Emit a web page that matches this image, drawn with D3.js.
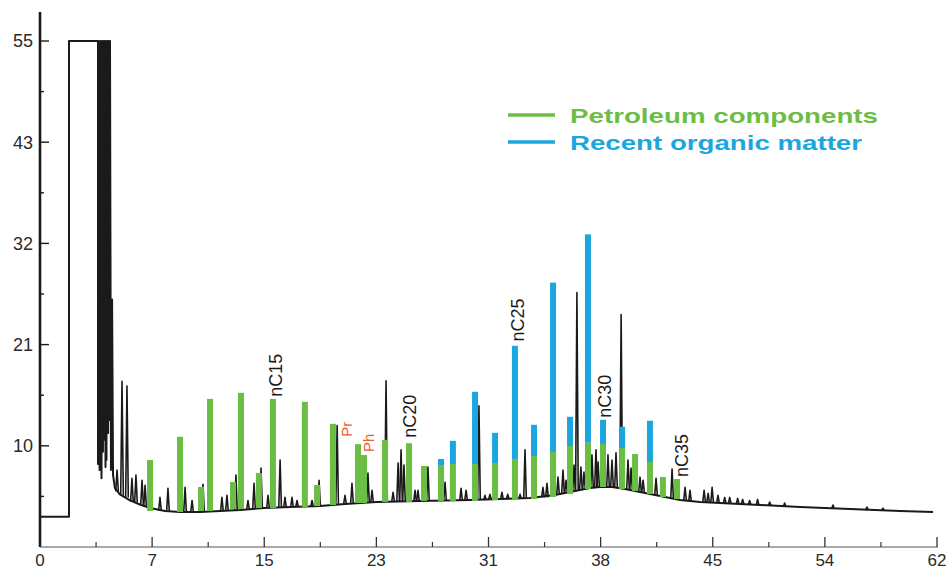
<!DOCTYPE html>
<html>
<head>
<meta charset="utf-8">
<script src="https://cdn.jsdelivr.net/npm/d3@7"></script>
<style>
  body { margin: 0; background: #fff; }
  svg { display: block; font-family: "Liberation Sans", Arial, Helvetica, sans-serif; }
</style>
</head>
<body>
<svg id="chart" width="950" height="571"></svg>
<script>
// Retention-time axis (minutes) and detector-response axis ticks
const xTickValues = [0, 7, 15, 23, 31, 38, 45, 54, 62];
const xMinorTicks = [3.5, 11, 19, 27, 34.5, 41.5, 49.5, 58];
const yTickValues = [0, 10, 21, 32, 43, 55];
const yTickLabels = ["10", "21", "32", "43", "55"];
const yMinorTicks = [5, 15.5, 26.5, 37.5, 49];

// Chromatogram baseline, including the saturated solvent front: [time, signal]
const baselineTrace = [
  [0, 3.0], [1.81, 3.0], [1.81, 55], [3.62, 55],
  [3.62, 8.2], [3.68, 55], [3.72, 7.6], [3.78, 55], [3.84, 6.8], [3.88, 55], [3.93, 9.4],
  [3.97, 55], [4.0, 10.65], [4.04, 55], [4.09, 7.9], [4.12, 55], [4.15, 8.6], [4.2, 55],
  [4.25, 11.4], [4.28, 55], [4.31, 12.8], [4.37, 55], [4.43, 7.6], [4.5, 25.9],
  [4.56, 7.1], [4.68, 5.8], [4.99, 5.2], [5.62, 4.6], [6.24, 4.2], [6.87, 3.85],
  [7.92, 3.56], [8.99, 3.46], [10.42, 3.46], [11.85, 3.56], [13.27, 3.66], [15, 3.85],
  [16.84, 3.95], [18.98, 4.05], [20.76, 4.25], [23, 4.45], [26.11, 4.55], [29.68, 4.64],
  [31.72, 4.74], [33.59, 4.84], [35.15, 5.14], [36.4, 5.53], [37.34, 5.83], [37.96, 5.93],
  [38.71, 5.93], [39.52, 5.73], [40.46, 5.43], [41.71, 5.04], [42.96, 4.64], [44.21, 4.45],
  [45.58, 4.35], [48.79, 4.15], [52.0, 3.95], [55.79, 3.75], [59.36, 3.56], [61.72, 3.46]
];

// Unassigned peaks on the trace: [time, base signal, apex signal]
const tracePeaks = [
  [4.81, 5.5, 7.6], [5.12, 5.1, 17.0], [5.43, 4.9, 16.5], [5.74, 4.5, 6.8], [5.99, 4.4, 7.1],
  [6.37, 4.2, 6.6], [6.56, 4.0, 6.1], [7.56, 3.6, 4.9], [8.13, 3.55, 5.8], [9.35, 3.46, 5.9],
  [9.85, 3.46, 4.6], [10.63, 3.46, 6.2], [11.98, 3.56, 4.9], [12.34, 3.6, 5.1], [12.98, 3.6, 7.1],
  [13.84, 3.7, 4.6], [14.27, 3.75, 6.3], [14.77, 3.8, 7.8], [15.27, 3.85, 5.1], [16.13, 3.9, 8.6],
  [16.48, 3.9, 4.9], [16.98, 3.95, 4.9], [17.34, 3.95, 4.6], [18.41, 4.0, 4.6], [18.91, 4.05, 6.6],
  [20.2, 4.15, 12.2], [20.76, 4.25, 5.1], [21.26, 4.3, 6.3], [22.4, 4.4, 7.3], [22.69, 4.4, 5.6],
  [23.69, 4.45, 17.07], [24.19, 4.5, 5.4], [24.55, 4.5, 8.3], [24.76, 4.5, 9.6], [24.97, 4.5, 8.1],
  [25.76, 4.5, 5.6], [25.97, 4.5, 5.6], [26.68, 4.55, 7.9], [27.9, 4.6, 6.4], [29.04, 4.6, 5.8],
  [29.4, 4.6, 5.6], [30.32, 4.64, 14.35], [30.75, 4.65, 5.1], [31.09, 4.7, 5.2], [31.84, 4.74, 5.4],
  [32.2, 4.76, 5.2], [32.97, 4.8, 5.2], [33.28, 4.8, 9.6], [34.4, 4.9, 5.9], [34.65, 4.9, 6.3],
  [35.34, 5.15, 6.9], [35.65, 5.3, 7.6], [35.84, 5.35, 6.6], [36.34, 5.5, 8.1], [36.52, 5.6, 26.65],
  [36.77, 5.65, 7.9], [36.96, 5.7, 7.4], [37.46, 5.85, 9.1], [37.71, 5.9, 9.6], [37.84, 5.9, 8.4],
  [38.46, 5.93, 9.1], [38.71, 5.93, 8.6], [38.96, 5.9, 9.3], [39.28, 5.8, 24.26], [39.71, 5.7, 8.6],
  [39.9, 5.6, 7.8], [40.46, 5.43, 6.9], [40.65, 5.4, 6.6], [41.46, 5.1, 6.8], [42.46, 4.8, 7.7],
  [43.27, 4.6, 5.9], [43.58, 4.5, 5.6], [44.46, 4.45, 5.6], [44.71, 4.42, 5.3], [44.96, 4.4, 5.9],
  [45.42, 4.35, 5.1], [45.96, 4.32, 4.9], [46.36, 4.3, 4.9], [47.0, 4.27, 4.8], [47.4, 4.25, 4.7],
  [47.96, 4.2, 4.6], [48.6, 4.15, 4.7], [49.57, 4.1, 4.45], [50.77, 4.0, 4.35], [54.58, 3.8, 4.15],
  [57.0, 3.65, 3.95], [58.14, 3.6, 3.85]
];

// Resolved compound peaks
const peakTime = [6.87, 8.99, 10.49, 11.13, 12.77, 13.34, 14.62, 15.62, 17.9, 18.77, 19.9,
  21.69, 22.12, 23.62, 25.33, 26.4, 27.61, 28.46, 30.04, 31.41, 32.65, 33.84, 35.03, 36.09,
  37.21, 38.15, 39.34, 40.15, 41.08, 41.89, 42.77];
const peakBase = [3.56, 3.46, 3.56, 3.56, 3.75, 3.75, 3.85, 3.85, 3.95, 4.05, 4.15,
  4.35, 4.35, 4.45, 4.45, 4.55, 4.55, 4.55, 4.55, 4.64, 4.64, 4.74, 4.94, 5.24,
  5.73, 5.93, 5.73, 5.53, 5.24, 4.94, 4.74];
const petroleumTop = [8.6, 10.98, 5.93, 15.1, 6.42, 15.76, 7.31, 15.1, 14.78, 6.13, 12.39,
  10.18, 9.09, 10.65, 10.28, 8.0, 8.1, 8.2, 8.2, 8.3, 8.7, 8.99, 9.39, 9.98,
  10.33, 10.2, 9.78, 9.19, 8.4, 6.92, 6.72];
const recentTop = [null, null, null, null, null, null, null, null, null, null, null,
  null, null, null, null, null, 8.7, 10.54, 15.87, 11.41, 20.87, 12.28, 27.74, 13.15,
  32.98, 12.83, 12.07, null, 12.72, null, null];

// Peak annotations: label, time, signal level at the foot of the label
const annotationText = ["nC15", "Pr", "Ph", "nC20", "nC25", "nC30", "nC35"];
const annotationTime = [16.27, 21.26, 22.83, 25.83, 33.22, 38.65, 43.46];
const annotationLevel = [15.33, 10.98, 9.39, 10.87, 21.33, 13.04, 6.92];
const annotationKind = ["alkane", "isoprenoid", "isoprenoid", "alkane", "alkane", "alkane", "alkane"];

const legendLabels = ["Petroleum components", "Recent organic matter"];

const GREEN = "#6cbd45";
const BLUE = "#1ba6df";
const ORANGE = "#ef5b2b";
const INK = "#1a1a1a";

const svg = d3.select("#chart");

const plotLeft = 40, plotRight = 937, plotBottom = 547, plotTop = 41;
const x = d3.scaleLinear()
  .domain(xTickValues)
  .range(xTickValues.map((d, i) => plotLeft + i * (plotRight - plotLeft) / (xTickValues.length - 1)));
const y = d3.scaleLinear()
  .domain(yTickValues)
  .range(yTickValues.map((d, i) => plotBottom - i * (plotBottom - plotTop) / (yTickValues.length - 1)));

// Trace
const line = d3.line().x(d => x(d[0])).y(d => y(d[1]));
svg.append("path")
  .attr("d", line(baselineTrace))
  .attr("fill", "none")
  .attr("stroke", INK)
  .attr("stroke-width", 2)
  .attr("stroke-linejoin", "round");

svg.append("g").selectAll("path")
  .data(tracePeaks)
  .join("path")
  .attr("d", d => `M${x(d[0]) - 1.3},${y(d[1])}L${x(d[0])},${y(d[2])}L${x(d[0]) + 1.3},${y(d[1])}`)
  .attr("fill", "none")
  .attr("stroke", INK)
  .attr("stroke-width", 1.6)
  .attr("stroke-linejoin", "round");

// Peak bars: petroleum portion from the baseline, recent organic matter stacked above
const barW = 6;
const bars = svg.append("g");
bars.selectAll("rect.recent")
  .data(peakTime.map((t, i) => ({ t, g: petroleumTop[i], b: recentTop[i] })).filter(d => d.b != null))
  .join("rect")
  .attr("class", "recent")
  .attr("x", d => x(d.t) - barW / 2)
  .attr("width", barW)
  .attr("y", d => y(d.b))
  .attr("height", d => y(d.g) - y(d.b))
  .attr("fill", BLUE);
bars.selectAll("rect.petro")
  .data(peakTime.map((t, i) => ({ t, base: peakBase[i], g: petroleumTop[i] })))
  .join("rect")
  .attr("class", "petro")
  .attr("x", d => x(d.t) - barW / 2)
  .attr("width", barW)
  .attr("y", d => y(d.g))
  .attr("height", d => y(d.base) - y(d.g))
  .attr("fill", GREEN);

// Axes
const axisG = svg.append("g");
axisG.append("line")
  .attr("x1", plotLeft).attr("x2", plotLeft)
  .attr("y1", 12).attr("y2", plotBottom)
  .attr("stroke", INK).attr("stroke-width", 2.6);
axisG.append("line")
  .attr("x1", plotLeft).attr("x2", plotRight + 1)
  .attr("y1", plotBottom).attr("y2", plotBottom)
  .attr("stroke", "#555").attr("stroke-width", 1.2);

axisG.selectAll("line.ymaj")
  .data(yTickValues.slice(1))
  .join("line")
  .attr("class", "ymaj")
  .attr("x1", plotLeft).attr("x2", plotLeft + 9)
  .attr("y1", d => y(d)).attr("y2", d => y(d))
  .attr("stroke", INK).attr("stroke-width", 1.4);
axisG.selectAll("line.ymin")
  .data(yMinorTicks)
  .join("line")
  .attr("class", "ymin")
  .attr("x1", plotLeft).attr("x2", plotLeft + 4)
  .attr("y1", d => y(d)).attr("y2", d => y(d))
  .attr("stroke", INK).attr("stroke-width", 1.4);
axisG.selectAll("text.ylab")
  .data(yTickValues.slice(1))
  .join("text")
  .attr("class", "ylab")
  .attr("x", 33)
  .attr("y", d => y(d))
  .attr("dy", "0.36em")
  .attr("text-anchor", "end")
  .attr("font-size", 18)
  .attr("fill", "#2a2a2a")
  .text((d, i) => yTickLabels[i]);

axisG.selectAll("line.xmaj")
  .data(xTickValues.slice(1))
  .join("line")
  .attr("class", "xmaj")
  .attr("x1", d => x(d)).attr("x2", d => x(d))
  .attr("y1", plotBottom).attr("y2", plotBottom - 10)
  .attr("stroke", "#333").attr("stroke-width", 1.3);
axisG.selectAll("line.xmin")
  .data(xMinorTicks)
  .join("line")
  .attr("class", "xmin")
  .attr("x1", d => x(d)).attr("x2", d => x(d))
  .attr("y1", plotBottom).attr("y2", plotBottom - 5)
  .attr("stroke", "#333").attr("stroke-width", 1.2);
axisG.selectAll("text.xlab")
  .data(xTickValues)
  .join("text")
  .attr("class", "xlab")
  .attr("x", d => x(d))
  .attr("y", 566)
  .attr("text-anchor", "middle")
  .attr("font-size", 17)
  .attr("fill", "#2a2a2a")
  .text(d => d);

// Peak annotations, rotated to read upward
svg.append("g").selectAll("text")
  .data(annotationText.map((s, i) => ({ s, t: annotationTime[i], v: annotationLevel[i], k: annotationKind[i] })))
  .join("text")
  .attr("transform", d => `translate(${x(d.t)},${y(d.v)}) rotate(-90)`)
  .attr("font-size", d => d.k === "alkane" ? 18 : 15)
  .attr("fill", d => d.k === "alkane" ? INK : ORANGE)
  .text(d => d.s);

// Legend
const legend = svg.append("g");
const legendColors = [GREEN, BLUE];
const legendWidths = [308, 292];
legendLabels.forEach((label, i) => {
  const ly = 115 + i * 27;
  legend.append("line")
    .attr("x1", 508).attr("x2", 555)
    .attr("y1", ly).attr("y2", ly)
    .attr("stroke", legendColors[i]).attr("stroke-width", 3.5);
  legend.append("text")
    .attr("x", 570).attr("y", ly + 7.5)
    .attr("font-size", 21)
    .attr("font-weight", "bold")
    .attr("fill", legendColors[i])
    .attr("textLength", legendWidths[i])
    .attr("lengthAdjust", "spacingAndGlyphs")
    .text(label);
});
</script>
</body>
</html>
